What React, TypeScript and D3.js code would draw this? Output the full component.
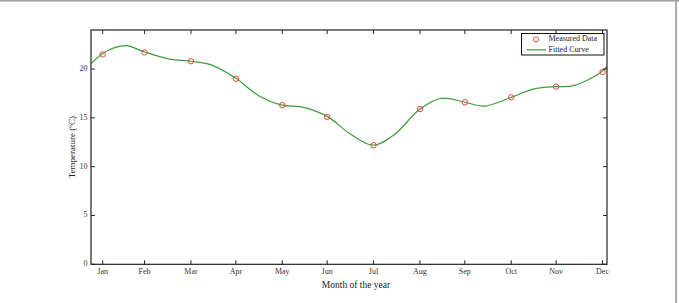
import { useEffect, useRef } from "react"
import * as d3 from "d3"

// Month ticks sit on the last day of each month (day of year)
const months = ["Jan", "Feb", "Mar", "Apr", "May", "Jun", "Jul", "Aug", "Sep", "Oct", "Nov", "Dec"]
const monthDays = [31, 59, 90, 120, 151, 181, 212, 243, 273, 304, 334, 365]

// Measured temperature for each month (°C)
const measured = [21.5, 21.7, 20.8, 19.0, 16.3, 15.1, 12.2, 15.9, 16.6, 17.1, 18.2, 19.7]

// Fitted curve samples: day of year / temperature
const fitDays = [23.2, 31, 39, 47, 59, 75, 90, 104, 120, 135, 151, 164, 181, 196, 212, 226, 243, 257, 273, 286, 304, 320, 334, 344, 354, 365, 368]
const fitTemps = [20.55, 21.6, 22.2, 22.4, 21.75, 21.05, 20.8, 20.4, 19.05, 17.3, 16.3, 16.13, 15.15, 13.4, 12.2, 13.3, 15.9, 17.0, 16.6, 16.2, 17.1, 18.0, 18.2, 18.25, 18.8, 19.8, 20.3]

const yTicks = [0, 5, 10, 15, 20]

export default function App() {
  const svgRef = useRef<SVGSVGElement>(null)

  useEffect(() => {
    if (!svgRef.current) return
    const svg = d3.select(svgRef.current)
    svg.selectAll("*").remove()

    const width = 679
    const height = 303
    const left = 91
    const right = 607
    const top = 30
    const bottom = 264.3
    const font = "'Liberation Serif', 'DejaVu Serif', serif"
    const axisColor = "#222"

    svg.attr("width", width).attr("height", height)

    // outer frame (top and right edges visible)
    svg.append("rect").attr("x", 0).attr("y", 0).attr("width", width).attr("height", 1.6).style("fill", "#a3a3a3")
    svg.append("rect").attr("x", 675.2).attr("y", 0).attr("width", 1.8).attr("height", height).style("fill", "#a3a3a3")

    const x = d3.scaleLinear().domain([23.2, 368]).range([left, right])
    const y = d3.scaleLinear().domain([0, 24]).range([bottom, top])

    const clip = svg.append("clipPath").attr("id", "plot-clip")
    clip.append("rect").attr("x", left).attr("y", top).attr("width", right - left).attr("height", bottom - top)

    // fitted curve
    const line = d3
      .line<number>()
      .x((_, i) => x(fitDays[i]))
      .y((d) => y(d))
      .curve(d3.curveCatmullRom.alpha(0.5))

    svg
      .append("path")
      .datum(fitTemps)
      .attr("clip-path", "url(#plot-clip)")
      .attr("d", line)
      .style("fill", "none")
      .style("stroke", "#3e9b3e")
      .style("stroke-width", 1.2)

    // measured points
    measured.forEach((v, i) => {
      svg
        .append("circle")
        .attr("cx", x(monthDays[i]))
        .attr("cy", y(v))
        .attr("r", 2.7)
        .style("fill", "none")
        .style("stroke", "#e3483c")
        .style("stroke-width", 1)
    })

    // axes box
    svg
      .append("rect")
      .attr("x", left)
      .attr("y", top)
      .attr("width", right - left)
      .attr("height", bottom - top)
      .style("fill", "none")
      .style("stroke", axisColor)
      .style("stroke-width", 1.2)

    const tickLen = 4

    // x ticks, mirrored on top
    monthDays.forEach((d, i) => {
      const px = x(d)
      svg.append("line").attr("x1", px).attr("x2", px).attr("y1", bottom).attr("y2", bottom - tickLen)
        .style("stroke", axisColor).style("stroke-width", 1)
      svg.append("line").attr("x1", px).attr("x2", px).attr("y1", top).attr("y2", top + tickLen)
        .style("stroke", axisColor).style("stroke-width", 1)
      svg.append("text")
        .attr("x", px)
        .attr("y", bottom + 7.5)
        .attr("text-anchor", "middle")
        .attr("dominant-baseline", "middle")
        .style("font-family", font)
        .style("font-size", "8px")
        .style("fill", "#333")
        .text(months[i])
    })

    // y ticks, mirrored on right
    yTicks.forEach((t) => {
      const py = y(t)
      svg.append("line").attr("x1", left).attr("x2", left + tickLen).attr("y1", py).attr("y2", py)
        .style("stroke", axisColor).style("stroke-width", 1)
      svg.append("line").attr("x1", right).attr("x2", right - tickLen).attr("y1", py).attr("y2", py)
        .style("stroke", axisColor).style("stroke-width", 1)
      svg.append("text")
        .attr("x", left - 3.5)
        .attr("y", py)
        .attr("text-anchor", "end")
        .attr("dominant-baseline", "middle")
        .style("font-family", font)
        .style("font-size", "8px")
        .style("fill", "#333")
        .text(t)
    })

    // axis titles
    svg.append("text")
      .attr("x", 356)
      .attr("y", 286)
      .attr("text-anchor", "middle")
      .attr("dominant-baseline", "middle")
      .style("font-family", font)
      .style("font-size", "9.5px")
      .style("fill", "#222")
      .text("Month of the year")

    svg.append("text")
      .attr("transform", `translate(72.5, ${(top + bottom) / 2}) rotate(-90)`)
      .attr("text-anchor", "middle")
      .attr("dominant-baseline", "middle")
      .style("font-family", font)
      .style("font-size", "9px")
      .style("fill", "#222")
      .text("Temperature (ºC)")

    // legend
    const lg = svg.append("g").attr("transform", "translate(521.5, 33.5)")
    lg.append("rect")
      .attr("width", 82.5)
      .attr("height", 21.5)
      .style("fill", "white")
      .style("stroke", "#111")
      .style("stroke-width", 1)
    lg.append("circle").attr("cx", 14.5).attr("cy", 5.8).attr("r", 2.5)
      .style("fill", "none").style("stroke", "#e3483c").style("stroke-width", 1)
    lg.append("line").attr("x1", 5).attr("x2", 24.5).attr("y1", 16.3).attr("y2", 16.3)
      .style("stroke", "#3e9b3e").style("stroke-width", 1.2)
    lg.append("text").attr("x", 27).attr("y", 6).attr("dominant-baseline", "middle")
      .style("font-family", font).style("font-size", "8px").style("fill", "#222").text("Measured Data")
    lg.append("text").attr("x", 27).attr("y", 16.5).attr("dominant-baseline", "middle")
      .style("font-family", font).style("font-size", "8px").style("fill", "#222").text("Fitted Curve")
  }, [])

  return (
    <div style={{ position: "absolute", left: 0, top: 0, background: "white" }}>
      <svg ref={svgRef} style={{ display: "block" }} />
    </div>
  )
}
